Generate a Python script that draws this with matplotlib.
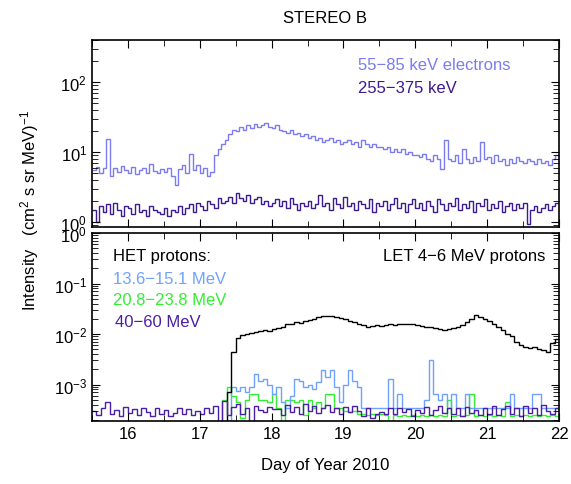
import numpy as np
import matplotlib
matplotlib.use("Agg")
import matplotlib.pyplot as plt
from matplotlib.ticker import LogLocator, MultipleLocator, NullFormatter

plt.rcParams["font.family"] = ["Liberation Sans", "DejaVu Sans"]
plt.rcParams["mathtext.default"] = "regular"

# electron bins: 0.05 day starting at DOY 15.5
e_start, e_width = 15.5, 0.05
e_low = [  # 55-85 keV
    5.5, 6.2, 5.0, 6.0, 15.5, 4.5, 6.0, 5.2, 6.3, 5.6,
    5.0, 6.2, 4.8, 5.5, 6.0, 5.1, 6.8, 5.3, 5.0, 5.8,
    5.2, 6.0, 4.6, 3.4, 5.8, 6.5, 5.0, 9.4, 5.5, 6.5,
    5.0, 6.0, 4.5, 5.2, 9.0, 11, 13, 15, 18, 21,
    20, 23, 21, 24, 22, 25, 23, 24, 26, 23,
    22, 24, 21, 20, 19, 21, 18, 19, 17, 18,
    16, 17, 15, 16, 14, 15, 16, 14, 15, 13,
    14, 15, 13, 14, 12, 15, 13, 12, 13, 12,
    12, 11, 12, 10, 11, 10, 11, 9.5, 10, 9,
    9, 8.5, 9.5, 8, 7.5, 9, 8, 5.8, 15, 8,
    7.5, 9, 7, 11, 8, 7, 8.5, 7.5, 14, 8,
    8.5, 7, 9, 7.5, 8, 6.5, 8, 7, 8.5, 7.5,
    7, 8, 7.5, 6.8, 8, 7, 7.5, 6.5, 8, 9,
]
e_high = [  # 255-375 keV
    1.5, 1.0, 1.7, 1.4, 1.8, 1.3, 1.9, 1.5, 1.2, 1.7,
    1.6, 1.3, 1.8, 1.4, 1.5, 1.2, 1.7, 1.5, 1.4, 1.3,
    1.6, 1.2, 1.5, 1.4, 1.7, 1.3, 1.6, 1.8, 1.4, 1.9,
    1.7, 1.5, 2.0, 1.8, 1.6, 2.2, 1.9, 2.0, 2.3, 1.9,
    2.6, 2.2, 2.0, 2.4, 1.9, 2.1, 2.3, 1.8, 2.0, 1.7,
    1.9, 2.1, 1.7, 2.0, 1.6, 2.2, 1.8, 1.5, 1.9, 1.7,
    2.0, 1.6, 1.8, 2.4, 1.7, 1.9, 1.5, 2.2, 1.8, 1.6,
    2.3, 1.7, 1.9, 1.5, 2.0, 1.8, 1.6, 2.1, 1.4, 1.9,
    1.7, 2.0, 1.5, 1.8, 2.2, 1.6, 1.9, 1.4, 1.8, 2.1,
    1.6, 1.9, 1.5, 2.0, 1.7, 1.4, 2.1, 1.8, 1.5, 1.9,
    1.7, 2.2, 1.5, 1.8, 1.6, 2.0, 1.4, 1.9, 1.7, 2.1,
    1.5, 1.8, 1.6, 2.0, 1.4, 1.7, 1.9, 1.5, 1.8, 1.6,
    1.9, 0.95, 1.5, 1.7, 1.4, 1.6, 1.8, 1.5, 1.7, 1.9,
]

# proton bins: 1.5 h starting at DOY 15.5; Z = no counts
p_start, p_width = 15.5, 0.0625
Z = 1e-6
let_p = [Z] * 30 + [
    7e-4, 4.5e-3,
    8.5e-3, 9.5e-3, 1.0e-2, 1.05e-2, 1.1e-2, 1.15e-2, 1.2e-2, 1.15e-2,
    1.25e-2, 1.3e-2, 1.4e-2, 1.55e-2, 1.6e-2, 1.7e-2, 1.65e-2, 1.8e-2,
    1.9e-2, 2.0e-2, 2.2e-2, 2.3e-2, 2.25e-2, 2.3e-2, 2.2e-2, 2.1e-2,
    2.0e-2, 1.8e-2, 1.7e-2, 1.6e-2, 1.5e-2, 1.4e-2, 1.45e-2, 1.5e-2,
    1.45e-2, 1.5e-2, 1.55e-2, 1.5e-2, 1.6e-2, 1.55e-2, 1.6e-2, 1.55e-2,
    1.5e-2, 1.45e-2, 1.4e-2, 1.35e-2, 1.3e-2, 1.25e-2, 1.2e-2, 1.25e-2,
    1.3e-2, 1.4e-2, 1.5e-2, 1.7e-2, 2.0e-2, 2.4e-2, 2.2e-2, 2.0e-2,
    1.8e-2, 1.6e-2, 1.4e-2, 1.2e-2, 1.0e-2, 9e-3, 7e-3, 6e-3,
    5.5e-3, 5.2e-3, 5.5e-3, 5.0e-3, 4.8e-3, 4.5e-3, 6.5e-3, 8e-3,
]
het_1 = [Z] * 31 + [  # 13.6-15.1 MeV
    9e-4,
    7.5e-4, 9e-4, 7e-4, 9e-4, 1.6e-3, 1.2e-3, 1.3e-3, 1.0e-3,
    6.5e-4, 9e-4, 4.5e-4, 3.5e-4, 6e-4, 1.3e-3, 1.2e-3, 9e-4,
    1.0e-3, 8e-4, 1.1e-3, 1.9e-3, 1.4e-3, 1.9e-3, 9e-4, 4.5e-4,
    1.0e-3, 1.9e-3, 1.2e-3, 9e-4, 3.5e-4, 3.4e-4, 3.5e-4, 3.4e-4,
    3.5e-4, 3.4e-4, 1.3e-3, 3.5e-4, 6.5e-4, 3.4e-4, 3.5e-4, 3.4e-4,
    3.5e-4, 3.4e-4, 5e-4, 3.0e-3, 6.5e-4, 5e-4, 6.5e-4, 3.5e-4,
    6.5e-4, 3.5e-4, 3.4e-4, 6.5e-4, 3.5e-4, 3.4e-4, 3.5e-4, 3.4e-4,
    3.5e-4, 3.4e-4, 3.5e-4, 3.4e-4, 3.5e-4, 6.5e-4, 3.4e-4, 3.5e-4,
    3.4e-4, 3.5e-4, 6.5e-4, 6.5e-4, 3.4e-4, 3.5e-4, 3.4e-4, 3.5e-4,
]
het_2 = [Z] * 29 + [  # 20.8-23.8 MeV
    5e-4, 9e-4, 6e-4,
    4.5e-4, 2.2e-4, 5e-4, 6.5e-4, 6.5e-4, 5e-4, 5e-4, 4.5e-4,
    6.5e-4, 3.5e-4, Z, 5e-4, 5e-4, 4.5e-4, 5e-4, 2.5e-4,
    5e-4, 3.5e-4, 4.5e-4, 3.4e-4, 6.5e-4, 6.5e-4, 3.5e-4, 3.4e-4,
    3.0e-4, 2.8e-4, 3.0e-4, 2.6e-4, 2.6e-4, 2.5e-4, 2.6e-4, 2.5e-4,
    2.6e-4, 2.5e-4, Z, 2.5e-4, 2.4e-4, 2.5e-4, 2.4e-4, 2.5e-4,
    2.4e-4, 2.5e-4, 2.4e-4, 2.5e-4, 2.4e-4, 2.5e-4, 2.4e-4, 5e-4,
    2.4e-4, 2.5e-4, 2.4e-4, 2.5e-4, 6.5e-4, 2.4e-4, 2.5e-4, 2.4e-4,
    2.5e-4, 2.4e-4, 2.5e-4, 2.4e-4, 4.5e-4, 2.4e-4, 2.5e-4, 2.4e-4,
    2.5e-4, 2.4e-4, 2.5e-4, 2.4e-4, 2.5e-4, 2.4e-4, 2.5e-4, 2.4e-4,
]
het_3 = [  # 40-60 MeV
    3.0e-4, 2.5e-4, 3.4e-4, 4.5e-4, 2.6e-4, 3.2e-4, 2.4e-4, 3.6e-4,
    2.7e-4, 3.3e-4, 2.5e-4, 3.5e-4, 2.8e-4, 2.4e-4, 3.4e-4, 2.6e-4,
    3.1e-4, 2.4e-4, 2.7e-4, 3.5e-4, 2.6e-4, 3.3e-4, 2.5e-4, 3.0e-4,
    2.6e-4, 3.4e-4, 2.7e-4, 3.8e-4, Z, 4.8e-4, 2.5e-4, 3.6e-4,
    4.2e-4, 2.6e-4, 3.5e-4, Z, 3.8e-4, 3.2e-4, 2.8e-4, 3.6e-4,
    3.3e-4, 3.3e-4, 2.5e-4, 3.9e-4, 2.9e-4, 3.6e-4, 2.6e-4, 4.2e-4,
    3.0e-4, 3.7e-4, 2.7e-4, 3.4e-4, 4.0e-4, 2.8e-4, 3.5e-4, 2.6e-4,
    3.6e-4, 2.8e-4, 3.8e-4, 3.0e-4, 2.4e-4, 3.4e-4, 2.2e-4, 2.6e-4,
    2.9e-4, 2.6e-4, 3.4e-4, 2.6e-4, 3.5e-4, 2.8e-4, 3.3e-4, 2.4e-4,
    3.2e-4, 2.7e-4, 3.6e-4, 2.5e-4, 3.1e-4, 3.8e-4, 2.7e-4, 3.4e-4,
    2.6e-4, 3.5e-4, 2.4e-4, 3.6e-4, 2.7e-4, 3.2e-4, 2.5e-4, 3.4e-4,
    2.6e-4, 3.7e-4, 2.5e-4, 3.3e-4, 3.8e-4, 2.6e-4, 3.5e-4, 2.4e-4,
    3.8e-4, 2.7e-4, 3.4e-4, 2.5e-4, 3.9e-4, 3.0e-4, 2.6e-4, 3.5e-4,
]

c_elo = "#7b7bf2"
c_ehi = "#3d1a8e"
c_p1 = "#6fa2ff"
c_p2 = "#33ee33"
c_p3 = "#4b1fa3"

e_edges = e_start + e_width * np.arange(len(e_low) + 1)
p_edges = p_start + p_width * np.arange(len(let_p) + 1)

fig = plt.figure(figsize=(5.71, 4.85), dpi=100)
ax1 = fig.add_axes([0.161, 0.530, 0.818, 0.3855])
ax2 = fig.add_axes([0.161, 0.130, 0.818, 0.3875])

lw = 1.0
ax1.stairs(e_low, e_edges, baseline=None, color=c_elo, lw=lw)
ax1.stairs(e_high, e_edges, baseline=None, color=c_ehi, lw=lw)

ax2.stairs(het_2, p_edges, baseline=None, color=c_p2, lw=lw)
ax2.stairs(het_1, p_edges, baseline=None, color=c_p1, lw=lw)
ax2.stairs(let_p, p_edges, baseline=None, color="black", lw=lw)
ax2.stairs(het_3, p_edges, baseline=None, color=c_p3, lw=lw)

for ax in (ax1, ax2):
    ax.set_yscale("log")
    ax.set_xlim(15.5, 22)
    ax.xaxis.set_major_locator(MultipleLocator(1))
    ax.xaxis.set_minor_locator(MultipleLocator(0.5))
    ax.yaxis.set_major_locator(LogLocator(base=10))
    ax.yaxis.set_minor_locator(LogLocator(base=10, subs=np.arange(2, 10)))
    ax.yaxis.set_minor_formatter(NullFormatter())
    ax.tick_params(which="both", direction="in", top=True, right=True,
                   labelsize=12)
    ax.tick_params(which="major", length=6)
    ax.tick_params(which="minor", length=4)
    for s in ax.spines.values():
        s.set_linewidth(1.2)

ax1.set_ylim(0.85, 400)
ax1.tick_params(axis="x", labelbottom=False)
ax2.set_ylim(1.9e-4, 1)

ax1.text(0.57, 0.87, "55\u221285 keV electrons", color=c_elo, fontsize=12,
         transform=ax1.transAxes, va="center")
ax1.text(0.57, 0.745, "255\u2212375 keV", color=c_ehi, fontsize=12,
         transform=ax1.transAxes, va="center")

ax2.text(0.045, 0.88, "HET protons:", color="black", fontsize=12,
         transform=ax2.transAxes, va="center")
ax2.text(0.045, 0.76, "13.6\u221215.1 MeV", color=c_p1, fontsize=12,
         transform=ax2.transAxes, va="center")
ax2.text(0.045, 0.645, "20.8\u221223.8 MeV", color=c_p2, fontsize=12,
         transform=ax2.transAxes, va="center")
ax2.text(0.05, 0.53, "40\u221260 MeV", color=c_p3, fontsize=12,
         transform=ax2.transAxes, va="center")
ax2.text(0.97, 0.88, "LET 4\u22126 MeV protons", color="black", fontsize=12,
         transform=ax2.transAxes, va="center", ha="right")

fig.text(0.57, 0.962, "STEREO B", fontsize=12, ha="center", va="center")
fig.text(0.57, 0.04, "Day of Year 2010", fontsize=12, ha="center",
         va="center")
fig.text(0.052, 0.567, "Intensity   (cm$^2$ s sr MeV)$^{-1}$", fontsize=12,
         rotation=90, ha="center", va="center")

fig.savefig("out.png", dpi=100)
